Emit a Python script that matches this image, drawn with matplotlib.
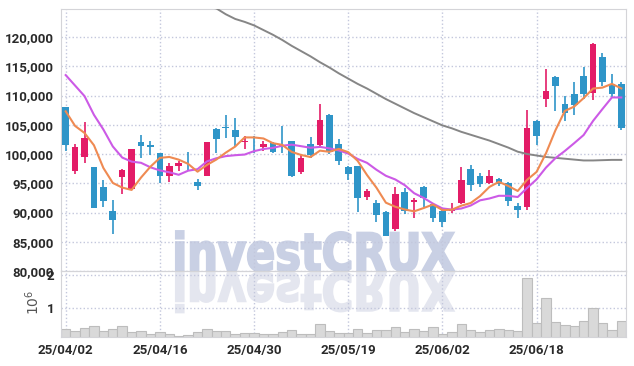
import numpy as np
import matplotlib
import matplotlib.pyplot as plt
from matplotlib.textpath import TextPath
from matplotlib.patches import PathPatch
from matplotlib.font_manager import FontProperties
from matplotlib.transforms import Affine2D
from matplotlib.ticker import FuncFormatter

matplotlib.use("Agg")

dates = [
    "2025-04-02", "2025-04-03", "2025-04-04", "2025-04-07", "2025-04-08",
    "2025-04-09", "2025-04-10", "2025-04-11", "2025-04-14", "2025-04-15",
    "2025-04-16", "2025-04-17", "2025-04-18", "2025-04-21", "2025-04-22",
    "2025-04-23", "2025-04-24", "2025-04-25", "2025-04-28", "2025-04-29",
    "2025-04-30", "2025-05-02", "2025-05-07", "2025-05-08", "2025-05-09",
    "2025-05-12", "2025-05-13", "2025-05-14", "2025-05-15", "2025-05-16",
    "2025-05-19", "2025-05-20", "2025-05-21", "2025-05-22", "2025-05-23",
    "2025-05-26", "2025-05-27", "2025-05-28", "2025-05-29", "2025-05-30",
    "2025-06-02", "2025-06-04", "2025-06-05", "2025-06-09", "2025-06-10",
    "2025-06-11", "2025-06-12", "2025-06-13", "2025-06-16", "2025-06-17",
    "2025-06-18", "2025-06-19", "2025-06-20", "2025-06-23", "2025-06-24",
    "2025-06-25", "2025-06-26", "2025-06-27", "2025-06-30", "2025-07-01",
]

opens = [
    108000, 97100, 99500, 97700, 94300, 90200, 96000, 94100, 102100, 101500,
    100100, 96200, 97900, 97800, 95200, 96300, 104200, 104700, 104100, 102000,
    102100, 101200, 101900, 101500, 102200, 96900, 101800, 101500, 106600, 101800,
    97700, 97900, 92700, 91600, 90100, 87100, 93500, 91800, 94400, 91400,
    90200, 90200, 91700, 97400, 96300, 95100, 95700, 95100, 91100, 91000,
    105700, 109400, 113200, 108500, 110300, 113300, 110500, 116600, 112000, 112000,
]
highs = [
    108100, 101700, 105400, 97800, 95600, 92100, 97400, 100900, 103200, 102200,
    100100, 98500, 98800, 100300, 95700, 102100, 104500, 106700, 106200, 103000,
    103000, 102200, 102000, 104800, 102200, 99800, 102900, 108600, 106900, 102600,
    97900, 98000, 94100, 92200, 90200, 94400, 94200, 92500, 94500, 91700,
    90800, 91600, 97700, 98100, 96700, 97200, 95900, 95200, 91600, 107600,
    105800, 114500, 113300, 109900, 112300, 114900, 119000, 117300, 113700, 112300,
]
lows = [
    100500, 96600, 98500, 90700, 90900, 86300, 93200, 93900, 99400, 99800,
    95100, 95300, 97100, 97100, 93800, 96200, 100100, 102800, 101200, 100900,
    100100, 100500, 100200, 100200, 96100, 96600, 99400, 101300, 100000, 98100,
    95500, 90100, 92200, 88400, 85900, 86800, 89700, 89100, 91000, 88400,
    87600, 90000, 91400, 93600, 94400, 94900, 94600, 91100, 89000, 90500,
    101500, 108100, 107300, 105600, 106600, 109400, 109200, 111600, 109600, 104100,
]
closes = [
    101500, 101200, 102800, 90700, 91900, 88700, 97200, 100800, 101300, 101200,
    96200, 98000, 98500, 97700, 94500, 102000, 102600, 104400, 102900, 102300,
    102000, 101700, 100400, 101400, 96300, 99400, 99900, 105900, 100400, 98800,
    96600, 92500, 93700, 89600, 86000, 93100, 90200, 92100, 92400, 89000,
    88400, 90500, 95500, 94700, 94900, 96300, 94800, 92000, 90400, 104500,
    103000, 110700, 111600, 107000, 108300, 110200, 118900, 112400, 110200, 104400,
]
volumes = [
    350000, 290000, 380000, 430000, 290000, 350000, 430000, 250000, 280000, 200000,
    250000, 190000, 140000, 160000, 250000, 340000, 280000, 280000, 200000, 220000,
    220000, 190000, 190000, 240000, 310000, 190000, 190000, 490000, 280000, 220000,
    220000, 340000, 220000, 310000, 310000, 400000, 250000, 340000, 280000, 400000,
    190000, 250000, 490000, 310000, 250000, 310000, 340000, 310000, 280000, 1900000,
    520000, 1290000, 550000, 460000, 430000, 580000, 980000, 520000, 310000, 580000,
]
ma5 = [
    107300, 104800, 103600, 101500, 97620, 95060, 94260, 93860, 95980, 97840,
    99340, 99500, 99040, 98320, 96980, 98140, 99060, 100240, 101280, 102840,
    102840, 102660, 101860, 101560, 100360, 99840, 99480, 100580, 100380, 100880,
    100320, 98840, 96400, 94240, 91680, 90980, 90520, 90200, 90760, 91360,
    90420, 90480, 91160, 91620, 92800, 94380, 95240, 94540, 93680, 95600,
    96940, 100120, 104040, 107360, 108120, 109560, 111200, 111360, 112000, 111220,
]
ma10 = [
    113500, 111700, 109900, 106700, 104200, 101300, 99400, 98700, 98500, 97730,
    97200, 96880, 96450, 97150, 97410, 98740, 99280, 99640, 99800, 99910,
    100490, 100860, 101050, 101420, 101600, 101340, 101070, 101220, 100970, 100620,
    100080, 99160, 98490, 97310, 96280, 95650, 94680, 93300, 92500, 91520,
    90700, 90500, 90680, 91190, 92080, 92400, 92860, 92850, 92650, 94200,
    95660, 97680, 99290, 100520, 101860, 103250, 105660, 107700, 109680, 109670,
]
ma_long = [
    133500, 133000, 132500, 132000, 131500, 131000, 130400, 129800, 129200, 128600,
    128000, 127400, 126800, 126200, 125700, 125200, 124900, 123900, 123100, 122600,
    122000, 121200, 120400, 119500, 118500, 117600, 116700, 115700, 114800, 113800,
    112900, 112000, 111200, 110300, 109400, 108600, 107800, 107000, 106300, 105600,
    104900, 104400, 103800, 103300, 102800, 102300, 101700, 101100, 100400, 100000,
    99750, 99500, 99350, 99200, 99050, 98900, 98900, 98950, 99000, 99000,
]

RED = "#e31c67"
BLUE = "#2f95c8"
GRID = "#c3c7dc"

plt.rcParams["font.family"] = ["Roboto", "DejaVu Sans"]

fig = plt.figure(figsize=(6.34, 3.66), dpi=100)
fig.patch.set_facecolor("white")
ax = fig.add_axes([0.0962, 0.2596, 0.8912, 0.7158])
axv = fig.add_axes([0.0962, 0.0792, 0.8912, 0.1804], sharex=ax)

# watermark + reflection, behind the axes
fp = FontProperties(family="DejaVu Sans", weight="bold")
tp = TextPath((0, 0), "investCRUX", size=1, prop=fp)
ext = tp.get_extents()
sx = 278 / ext.width
sy = 38 / 0.729
W, H = 634, 366
for flip, col in [(1, "#c9d0e4"), (-1, "#e4e6ef")]:
    tr = Affine2D().translate(-ext.x0, 0).scale(sx / W, flip * sy / H).translate(176 / W, (94.3 + flip) / H)
    wm = PathPatch(tp, facecolor=col, edgecolor=col, linewidth=1.5,
                   transform=tr + fig.transFigure, zorder=-1)
    fig.add_artist(wm)

for a in (ax, axv):
    a.set_facecolor("none")
    a.grid(True, linestyle=":", color=GRID, linewidth=1)
    a.set_axisbelow(True)
    for s in a.spines.values():
        s.set_color("#d4d4d8")
    a.tick_params(length=0, pad=5, labelsize=9.5, labelcolor="#2a2a2a")

x = np.arange(len(closes))
o = np.array(opens)
c = np.array(closes)
colors = [RED if cc >= oo else BLUE for oo, cc in zip(o, c)]
body_low = np.minimum(o, c)
body_h = np.maximum(np.abs(c - o), 130)

ax.vlines(x, lows, highs, colors=colors, linewidth=1.2, zorder=2)
ax.bar(x, body_h, bottom=body_low, width=0.7, color=colors, zorder=3)
ax.plot(x, ma_long, color="#868686", linewidth=1.4, zorder=4)
ax.plot(x, ma10, color="#cc5ae6", linewidth=1.5, zorder=4)
ax.plot(x, ma5, color="#ef8a52", linewidth=1.5, zorder=4)

ax.set_xlim(-0.5, len(closes) - 0.5)
ax.set_ylim(80000, 124800)
ax.set_yticks(range(80000, 125000, 5000))
ax.yaxis.set_major_formatter(FuncFormatter(lambda v, p: f"{v:,.0f}"))
ax.tick_params(labelbottom=False)

tick_idx = list(range(0, len(dates), 10))
axv.set_xticks(tick_idx)
axv.set_xticklabels([dates[i][2:].replace("-", "/") for i in tick_idx])

axv.bar(x, volumes, width=1.0, color="#d9d9d9", edgecolor="#bdbdbd", linewidth=0.8, zorder=2)
axv.set_ylim(100000, 2120000)
axv.set_yticks([1000000, 2000000])
axv.yaxis.set_major_formatter(FuncFormatter(lambda v, p: f"{v / 1e6:.0f}"))

for a in (ax, axv):
    for lab in a.get_yticklabels() + a.get_xticklabels():
        lab.set_fontweight("bold")

fig.text(33 / W, 1 - 302 / H, r"$10^6$", rotation=90, fontsize=10,
         color="#555555", ha="center", va="center")

fig.savefig("out.png", dpi=100)
plt.close(fig)
